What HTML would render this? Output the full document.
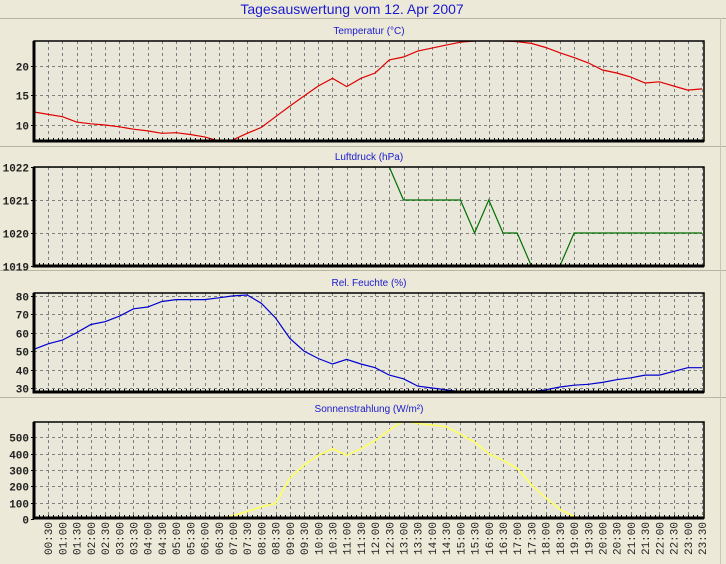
<!DOCTYPE html>
<html><head><meta charset="utf-8"><style>
body{margin:0;background:#ece9d8;width:726px;height:564px;overflow:hidden;}
svg{display:block;}
</style></head><body>
<svg id="c" width="726" height="564" xmlns="http://www.w3.org/2000/svg">
<rect x="0" y="0" width="726" height="564" fill="#ece9d8"/>
<text x="352" y="14" text-anchor="middle" font-family="Liberation Sans, sans-serif" font-size="14" fill="#1a1ad0">Tagesauswertung vom 12. Apr 2007</text>
<line x1="0" y1="18.5" x2="726" y2="18.5" stroke="#b8b5a3"/>
<line x1="0" y1="146.5" x2="726" y2="146.5" stroke="#b8b5a3"/>
<line x1="0" y1="270.5" x2="726" y2="270.5" stroke="#b8b5a3"/>
<line x1="0" y1="397.5" x2="726" y2="397.5" stroke="#b8b5a3"/>
<line x1="720.5" y1="18" x2="720.5" y2="564" stroke="#c8c5b3"/>
</svg>
<script>
// half-hour samples 00:00 .. 23:30
const temperature=[12.2,11.8,11.4,10.5,10.2,10.0,9.7,9.3,9.0,8.6,8.7,8.4,8.0,7.3,7.5,8.6,9.6,11.4,13.2,14.9,16.6,17.9,16.5,17.9,18.8,21.0,21.5,22.5,23.0,23.5,24.0,24.2,24.3,24.2,24.1,23.8,23.1,22.2,21.4,20.5,19.3,18.8,18.1,17.1,17.3,16.6,15.9,16.1];
const pressure=[1022,1022,1022,1022,1022,1022,1022,1022,1022,1022,1022,1022,1022,1022,1022,1022,1022,1022,1022,1022,1022,1022,1022,1022,1022,1022,1021,1021,1021,1021,1021,1020,1021,1020,1020,1019,1019,1019,1020,1020,1020,1020,1020,1020,1020,1020,1020,1020];
const humidity=[51,54,56,60,64.5,66,69,73,74,77,78,78,78,79,80,80.5,76,68,57,50,46,43,45.5,43,41,37,35,31,30,29,28,27,27,27,27,28,29,30.5,31.5,32,33,34.5,35.5,37,37,39,41,41];
const radiation=[0,0,0,0,0,0,0,0,0,0,0,0,0,0,20,45,75,95,250,330,390,430,390,430,480,545,600,585,575,565,520,470,400,360,310,210,130,60,15,0,0,0,0,0,0,0,0,0];
const tempTicks=[10,15,20];
const pressTicks=[1019,1020,1021,1022];
const humTicks=[30,40,50,60,70,80];
const radTicks=[0,100,200,300,400,500];
const timeLabels=["00:30","01:00","01:30","02:00","02:30","03:00","03:30","04:00","04:30","05:00","05:30","06:00","06:30","07:00","07:30","08:00","08:30","09:00","09:30","10:00","10:30","11:00","11:30","12:00","12:30","13:00","13:30","14:00","14:30","15:00","15:30","16:00","16:30","17:00","17:30","18:00","18:30","19:00","19:30","20:00","20:30","21:00","21:30","22:00","22:30","23:00","23:30"];

const NS="http://www.w3.org/2000/svg";
const svg=document.getElementById('c');
const X0=34,X1=704;
function xScale(h){return X0+h*(702-X0)/23.5;}
function mk(tag,attrs,parent){const e=document.createElementNS(NS,tag);for(const k in attrs)e.setAttribute(k,attrs[k]);(parent||svg).appendChild(e);return e;}

const panels=[
 {key:'temperature',title:'Temperatur (°C)',ty:34,top:41,bot:141,vmin:7.3,vmax:24.2,data:temperature,ticks:tempTicks,color:'#e00000'},
 {key:'pressure',title:'Luftdruck (hPa)',ty:160,top:167,bot:266,vmin:1019,vmax:1022,data:pressure,ticks:pressTicks,color:'#007000'},
 {key:'humidity',title:'Rel. Feuchte (%)',ty:286,top:293,bot:392,vmin:27.8,vmax:81.6,data:humidity,ticks:humTicks,color:'#0000d0'},
 {key:'radiation',title:'Sonnenstrahlung (W/m²)',ty:412,top:422,bot:518,vmin:6,vmax:594,data:radiation,ticks:radTicks,color:'#ffff60'}
];
panels.forEach((p,pi)=>{
  const g=mk('g',{});
  
  
  const yS=v=>p.bot-(v-p.vmin)/(p.vmax-p.vmin)*(p.bot-p.top);
  const t=mk('text',{x:369,y:p.ty,'text-anchor':'middle','font-family':'Liberation Sans, sans-serif','font-size':'10',fill:'#1a1ad0'},g);
  t.textContent=p.title;
  
  
  const bg=mk('rect',{x:X0,y:p.top,width:X1-X0,height:p.bot-p.top,fill:'#e9e7da'},g);
  
  
  const clipId='clip'+pi;
  const cp=mk('clipPath',{id:clipId},g);
  mk('rect',{x:X0,y:p.top,width:X1-X0,height:p.bot-p.top},cp);
  for(let i=1;i<=47;i++){
    const x=Math.round(xScale(i*0.5))+0.5;
    const l=mk('line',{x1:x,y1:p.top,x2:x,y2:p.bot,stroke:'#808080','stroke-dasharray':'3,3','stroke-width':1},g);
    
    
  }
  p.ticks.forEach(v=>{
    const y=Math.round(yS(v))+0.5;
    if(y>p.top+1&&y<p.bot-1){
      const l=mk('line',{x1:X0,y1:y,x2:X1,y2:y,stroke:'#808080','stroke-dasharray':'3,3'},g);
      
      
    }
    const tk=mk('line',{x1:X0-3,y1:y,x2:X0,y2:y,stroke:'#000'},g);
    
    
    const lb=mk('text',{x:X0-5,y:y+4,'text-anchor':'end','font-family':'Liberation Mono, monospace','font-size':'11','font-weight':'bold',fill:'#222'},g);
    lb.textContent=v;
    
    
  });
  const pts=p.data.map((v,i)=>xScale(i*0.5).toFixed(1)+','+yS(v).toFixed(1)).join(' ');
  const pl=mk('polyline',{points:pts,fill:'none',stroke:p.color,'stroke-width':p.key==='radiation'?1.6:1.2,'clip-path':'url(#'+clipId+')'},g);
  
  
  for(let m=1;m<141;m++){
    const x=Math.round(X0+m*(702-X0)/141)+0.5;
    const tk=mk('line',{x1:x,y1:p.bot-3,x2:x,y2:p.bot,stroke:'#000'},g);
    
    
  }
  const fr=mk('rect',{x:X0,y:p.top,width:X1-X0,height:p.bot-p.top,fill:'none',stroke:'#000','stroke-width':1.5},g);
  
  
  const ax=mk('path',{d:'M'+X0+','+p.top+' V'+p.bot+' H'+X1,fill:'none',stroke:'#000','stroke-width':3},g);
  
  
});
timeLabels.forEach((s,i)=>{
  const x=xScale((i+1)*0.5)+4;
  const t=mk('text',{x:0,y:0,transform:'translate('+x.toFixed(1)+',522) rotate(-90)','text-anchor':'end','font-family':'Liberation Mono, monospace','font-size':'11',fill:'#222'});
  t.textContent=s;
  
  
});
</script>
</body></html>
